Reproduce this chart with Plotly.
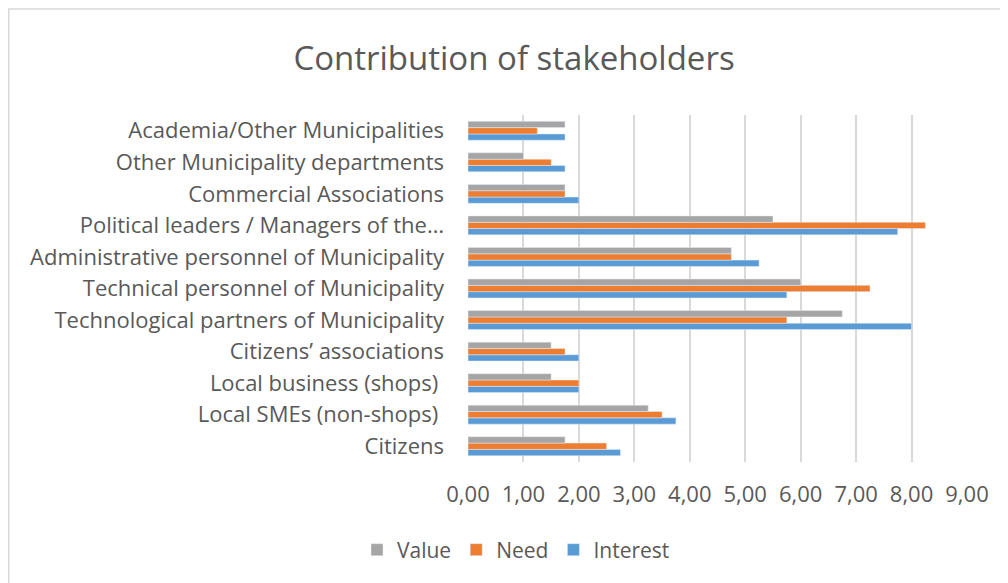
import plotly.graph_objects as go

categories = [
    "Citizens",
    "Local SMEs (non-shops) ",
    "Local business (shops) ",
    "Citizens’ associations",
    "Technological partners of Municipality",
    "Technical personnel of Municipality",
    "Administrative personnel of Municipality",
    "Political leaders / Managers of the…",
    "Commercial Associations",
    "Other Municipality departments",
    "Academia/Other Municipalities",
]
value = [1.75, 3.25, 1.5, 1.5, 6.75, 6.0, 4.75, 5.5, 1.75, 1.0, 1.75]
need = [2.5, 3.5, 2.0, 1.75, 5.75, 7.25, 4.75, 8.25, 1.75, 1.5, 1.25]
interest = [2.75, 3.75, 2.0, 2.0, 8.0, 5.75, 5.25, 7.75, 2.0, 1.75, 1.75]
tick_vals = [0, 1, 2, 3, 4, 5, 6, 7, 8, 9]
tick_text = ["0,00", "1,00", "2,00", "3,00", "4,00", "5,00", "6,00", "7,00", "8,00", "9,00"]

FONT = "Open Sans"
GREY = "#595959"

W, H = 1000, 575
L, R, T, B = 460, 41, 107, 121
PW, PH = W - L - R, H - T - B

fig = go.Figure()
fig.add_trace(go.Bar(y=categories, x=interest, name="Interest", orientation="h",
                     marker=dict(color="#5B9BD5")))
fig.add_trace(go.Bar(y=categories, x=need, name="Need", orientation="h",
                     marker=dict(color="#ED7D31")))
fig.add_trace(go.Bar(y=categories, x=value, name="Value", orientation="h",
                     marker=dict(color="#A5A5A5")))

fig.update_layout(
    width=W, height=H,
    margin=dict(l=L, r=R, t=T, b=B, autoexpand=False),
    paper_bgcolor="white", plot_bgcolor="white",
    barmode="group", bargap=0.4, bargroupgap=0,
    font=dict(family=FONT, color=GREY),
    title=dict(text="Contribution of stakeholders", x=506 / W, xref="container", xanchor="center",
               y=(H - 50) / H, yref="container", yanchor="middle",
               font=dict(family=FONT, size=33, color=GREY)),
    xaxis=dict(range=[0, 9], tickvals=tick_vals, ticktext=tick_text,
               showgrid=True, gridcolor="#D9D9D9", gridwidth=1.5,
               zeroline=False, showline=False, ticks="",
               tickfont=dict(family=FONT, size=22, color=GREY), ticklabelstandoff=17),
    yaxis=dict(showgrid=False, zeroline=False, showline=False, ticks="",
               tickfont=dict(family=FONT, size=22, color=GREY), ticklabelstandoff=23),
    legend=dict(orientation="h", traceorder="reversed", xref="container", x=508 / W, xanchor="center",
                yref="container", y=(H - 542) / H, yanchor="middle",
                font=dict(family=FONT, size=21, color=GREY), itemwidth=30),
    showlegend=True,
)

fig.add_shape(type="rect", xref="paper", yref="paper",
              x0=(0.75 - L) / PW, x1=1.2, y0=-0.6, y1=(H - B - 1) / PH,
              line=dict(color="#D9D9D9", width=1.5), fillcolor="rgba(0,0,0,0)", layer="below")

fig.write_html("out.html")
